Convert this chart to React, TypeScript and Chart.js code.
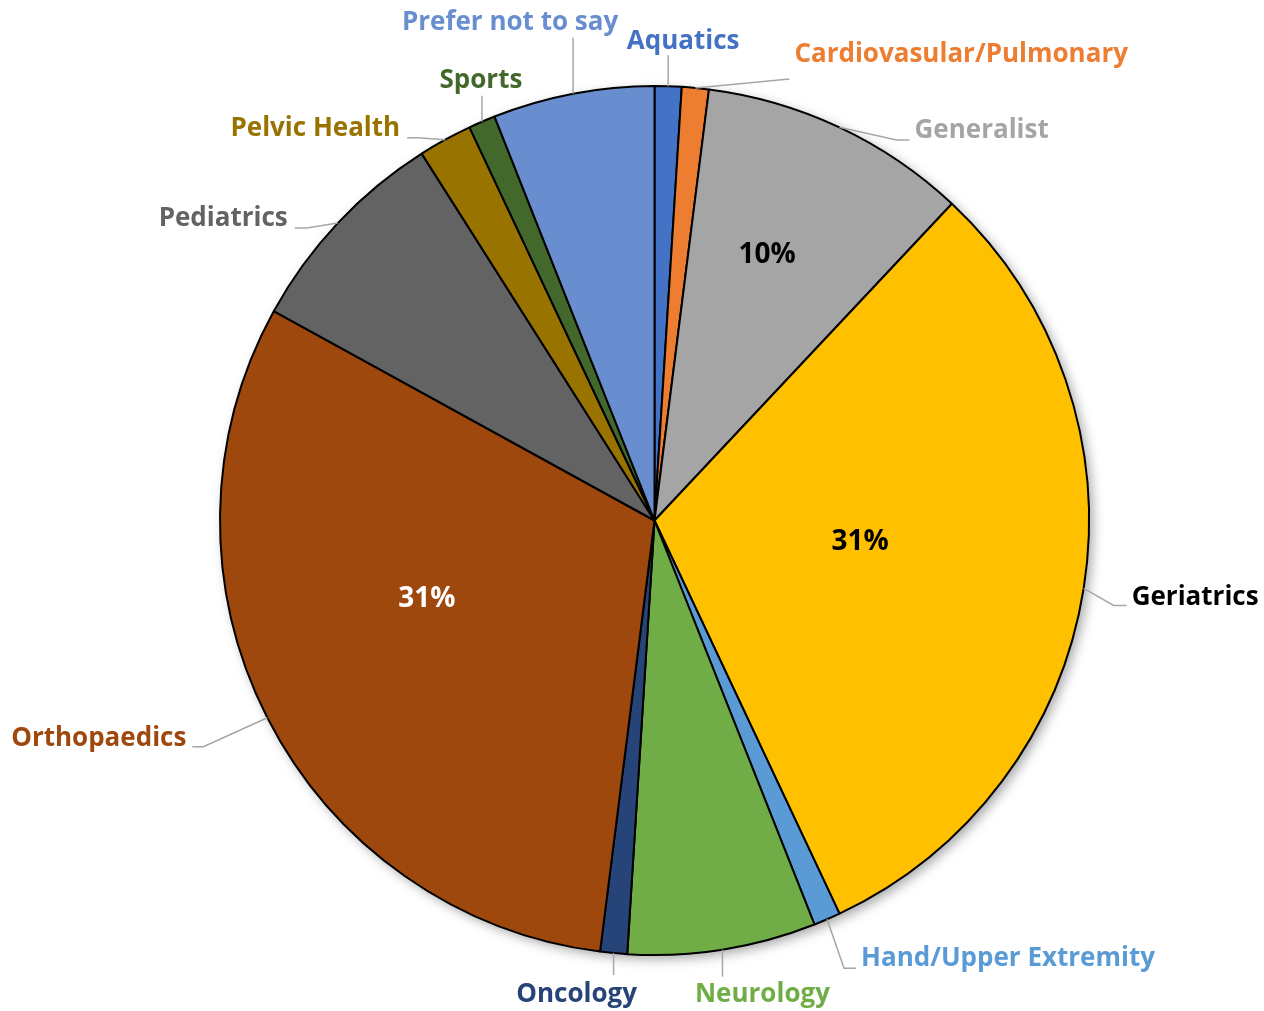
import React, { useEffect, useRef } from "react";
import { Chart, registerables } from "chart.js";

Chart.register(...registerables);

const categories = [
  "Aquatics",
  "Cardiovasular/Pulmonary",
  "Generalist",
  "Geriatrics",
  "Hand/Upper Extremity",
  "Neurology",
  "Oncology",
  "Orthopaedics",
  "Pediatrics",
  "Pelvic Health",
  "Sports",
  "Prefer not to say",
];
const counts = [1, 1, 10, 31, 1, 7, 1, 31, 8, 2, 1, 6];
const sliceColors = [
  "#4472C4", "#ED7D31", "#A5A5A5", "#FFC000", "#5B9BD5", "#70AD47",
  "#264478", "#9E480E", "#636363", "#997300", "#43682B", "#698ED0",
];
const labelColors = [
  "#4472C4", "#ED7D31", "#A5A5A5", "#000000", "#5B9BD5", "#70AD47",
  "#264478", "#9E480E", "#636363", "#997300", "#43682B", "#698ED0",
];
const percentColors = [
  "#000", "#000", "#000", "#000", "#000", "#000",
  "#000", "#FFFFFF", "#000", "#000", "#000", "#000",
];
const percentMin = 10;

// label layout: leader path offsets relative to slice edge midpoint, text offset from path end
type Lay = { path: number[][]; text: number[]; align: CanvasTextAlign };
const labelLayout: Lay[] = [
  { path: [[0, -31]], text: [15, -14], align: "center" },
  { path: [[94, -9]], text: [5, -24], align: "left" },
  { path: [[57, 12.6], [70, 12.6]], text: [5, -9], align: "left" },
  { path: [[30, 17], [43, 17]], text: [5, -8], align: "left" },
  { path: [[17, 49], [29, 49]], text: [5, -10], align: "left" },
  { path: [[0, 27]], text: [40, 18], align: "center" },
  { path: [[0, 22]], text: [-37, 20], align: "center" },
  { path: [[-64, 29], [-75, 29]], text: [-6, -8], align: "right" },
  { path: [[-31, 5], [-43, 5]], text: [-7, -9], align: "right" },
  { path: [[-27, -2], [-38, -2]], text: [-7, -9], align: "right" },
  { path: [[0, -26]], text: [-1, -15], align: "center" },
  { path: [[0, -56]], text: [-63, -15], align: "center" },
];
const percentOffsets = [
  [0, 0], [0, 0], [20, -69], [-9, -12], [0, 0], [0, 0],
  [0, 0], [-34, -20], [0, 0], [0, 0], [0, 0], [0, 0],
];

const labelPlugin = {
  id: "pieLabels",
  beforeDatasetsDraw(chart: any) {
    const meta = chart.getDatasetMeta(0);
    const a0 = meta.data[0];
    if (!a0) return;
    const { x, y, outerRadius } = a0.getProps(["x", "y", "outerRadius"], true);
    const ctx = chart.ctx;
    ctx.save();
    ctx.shadowColor = "rgba(0,0,0,0.35)";
    ctx.shadowBlur = 12;
    ctx.shadowOffsetX = 4;
    ctx.shadowOffsetY = 4;
    ctx.beginPath();
    ctx.arc(x, y, outerRadius, 0, Math.PI * 2);
    ctx.fillStyle = "#ffffff";
    ctx.fill();
    ctx.restore();
  },
  afterDatasetsDraw(chart: any) {
    const meta = chart.getDatasetMeta(0);
    const ctx = chart.ctx;
    const total = counts.reduce((s, v) => s + v, 0);
    ctx.save();
    meta.data.forEach((arc: any, i: number) => {
      const p = arc.getProps(["x", "y", "startAngle", "endAngle", "outerRadius"], true);
      const mid = (p.startAngle + p.endAngle) / 2;
      const ex = p.x + p.outerRadius * Math.cos(mid);
      const ey = p.y + p.outerRadius * Math.sin(mid);
      const lay = labelLayout[i];
      // leader line
      ctx.beginPath();
      ctx.moveTo(ex, ey);
      let lx = ex, ly = ey;
      lay.path.forEach(([dx, dy]) => {
        lx = ex + dx;
        ly = ey + dy;
        ctx.lineTo(lx, ly);
      });
      ctx.strokeStyle = "#A6A6A6";
      ctx.lineWidth = 1.5;
      ctx.stroke();
      // category text
      ctx.font = "bold 26px 'Open Sans'";
      ctx.fillStyle = labelColors[i];
      ctx.textAlign = lay.align;
      ctx.textBaseline = "middle";
      ctx.fillText(categories[i], lx + lay.text[0], ly + lay.text[1]);
      // percent
      const pct = Math.round((counts[i] / total) * 100);
      if (pct >= percentMin) {
        const r = p.outerRadius / 2;
        const px = p.x + r * Math.cos(mid) + percentOffsets[i][0];
        const py = p.y + r * Math.sin(mid) + percentOffsets[i][1];
        ctx.font = "bold 28px 'Open Sans'";
        ctx.fillStyle = percentColors[i];
        ctx.textAlign = "center";
        ctx.fillText(pct + "%", px, py);
      }
    });
    ctx.restore();
  },
};

export default function App() {
  const ref = useRef<HTMLCanvasElement | null>(null);
  useEffect(() => {
    if (!ref.current) return;
    const chart = new Chart(ref.current, {
      type: "pie",
      data: {
        labels: categories,
        datasets: [
          {
            data: counts,
            backgroundColor: sliceColors,
            borderColor: "#000000",
            borderWidth: 2,
          },
        ],
      },
      options: {
        animation: false,
        responsive: true,
        maintainAspectRatio: false,
        layout: { padding: { left: 219, right: 174, top: 85, bottom: 55 } },
        plugins: { legend: { display: false }, tooltip: { enabled: false } },
      },
      plugins: [labelPlugin],
    });
    return () => chart.destroy();
  }, []);
  return (
    <div style={{ position: "absolute", left: 0, top: 0, width: 1264, height: 1011, background: "#fff" }}>
      <canvas ref={ref} />
    </div>
  );
}
